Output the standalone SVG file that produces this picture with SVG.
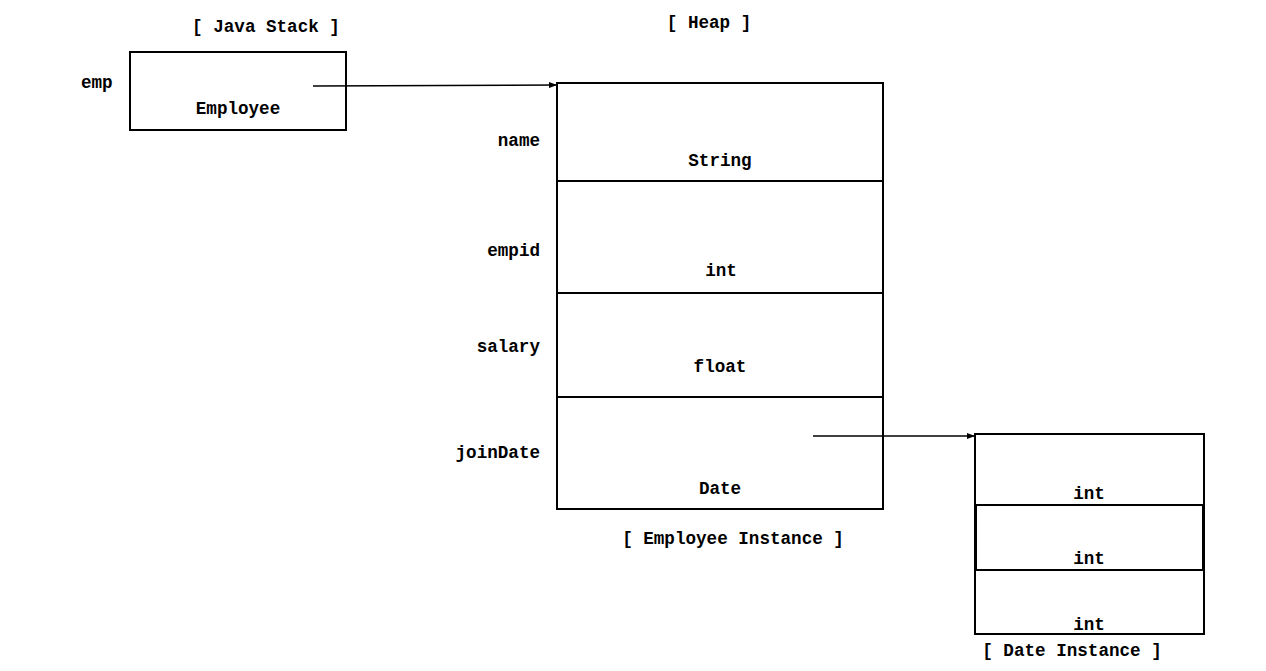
<svg xmlns="http://www.w3.org/2000/svg" width="1266" height="671" viewBox="0 0 1266 671">
<defs>
<style>
text{font-family:"Liberation Mono","Courier New",monospace;font-weight:bold;font-size:17.6px;fill:#000}
.c{text-anchor:middle}
.r{text-anchor:end}
.box{fill:#fff;stroke:#000;stroke-width:2}
.div{stroke:#000;stroke-width:2}
.conn{stroke:#000;stroke-width:1.5;fill:none}
</style>
<marker id="ah" markerWidth="8" markerHeight="6" refX="8" refY="3" orient="auto" markerUnits="userSpaceOnUse">
<path d="M0,0 L8,3 L0,6 Z" fill="#000"/>
</marker>
</defs>
<rect width="1266" height="671" fill="#fff"/>
<text class="c" x="266" y="32">[ Java Stack ]</text>
<text class="c" x="709" y="28">[ Heap ]</text>
<g id="stack-emp">
<rect class="box" x="130" y="52" width="216" height="78"/>
<text x="81" y="88">emp</text>
<text class="c" x="238" y="114">Employee</text>
</g>
<g id="employee-instance">
<rect class="box" x="557" y="83" width="326" height="426"/>
<line class="div" x1="557" y1="181" x2="883" y2="181"/>
<line class="div" x1="557" y1="293" x2="883" y2="293"/>
<line class="div" x1="557" y1="397" x2="883" y2="397"/>
<text class="r" x="540" y="146">name</text>
<text class="c" x="720" y="166">String</text>
<text class="r" x="540" y="256">empid</text>
<text class="c" x="721" y="276">int</text>
<text class="r" x="540" y="352">salary</text>
<text class="c" x="720" y="372">float</text>
<text class="r" x="540" y="458">joinDate</text>
<text class="c" x="720" y="494">Date</text>
<text class="c" x="733" y="544">[ Employee Instance ]</text>
</g>
<g id="date-instance">
<rect class="box" x="975" y="434" width="229" height="200"/>
<rect class="box" x="976" y="505" width="227" height="65" stroke-width="2.5"/>
<text class="c" x="1089" y="499">int</text>
<text class="c" x="1089" y="564">int</text>
<text class="c" x="1089" y="630">int</text>
<text class="c" x="1072" y="656">[ Date Instance ]</text>
</g>
<g id="connectors">
<line class="conn" x1="313" y1="86" x2="557" y2="85" marker-end="url(#ah)"/>
<line class="conn" x1="813" y1="436" x2="975" y2="436" marker-end="url(#ah)"/>
</g>
</svg>
